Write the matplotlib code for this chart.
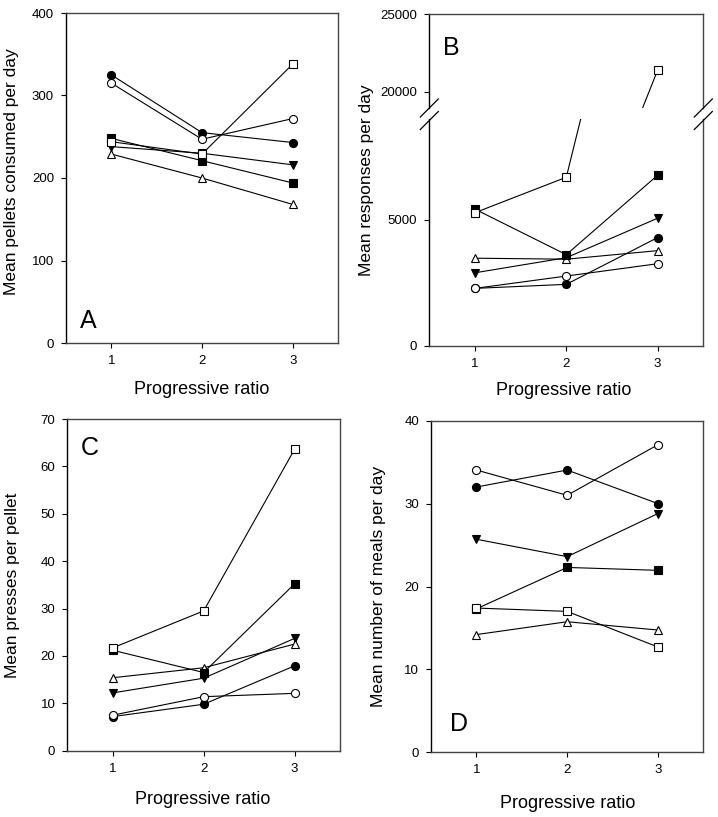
import matplotlib.pyplot as plt

plt.rcParams["font.family"] = ["Liberation Sans", "DejaVu Sans"]

# progressive ratio steps
ratios = [1, 2, 3]

# A: pellets consumed per day
a_filled_circle = [325, 255, 243]
a_open_circle = [315, 247, 272]
a_filled_tri = [238, 230, 216]
a_open_tri = [229, 200, 168]
a_filled_square = [248, 221, 194]
a_open_square = [244, 229, 338]

# B: responses per day (broken axis)
b_filled_circle = [2280, 2440, 4300]
b_open_circle = [2280, 2770, 3260]
b_filled_tri = [2900, 3500, 5070]
b_open_tri = [3480, 3440, 3780]
b_filled_square = [5430, 3620, 6780]
b_open_square = [5290, 6700, 21400]

# C: presses per pellet
c_filled_circle = [7.2, 9.8, 17.9]
c_open_circle = [7.5, 11.4, 12.1]
c_filled_tri = [12.2, 15.3, 23.7]
c_open_tri = [15.4, 17.5, 22.5]
c_filled_square = [21.2, 16.5, 35.2]
c_open_square = [21.7, 29.5, 63.6]

# D: meals per day
d_filled_circle = [32.0, 34.05, 30.0]
d_open_circle = [34.05, 31.0, 37.1]
d_filled_tri = [25.7, 23.6, 28.8]
d_open_tri = [14.2, 15.75, 14.75]
d_filled_square = [17.3, 22.3, 21.95]
d_open_square = [17.4, 17.0, 12.7]

W, H = 718, 817
fig = plt.figure(figsize=(W / 100, H / 100), dpi=100)


def px_axes(left, top, right, bottom):
    return fig.add_axes([left / W, 1 - bottom / H, (right - left) / W, (bottom - top) / H])


def style(ax, ticks, xticks=True):
    ax.set_xlim(0.5, 3.5)
    ax.set_yticks(ticks)
    ax.set_yticklabels([str(t) for t in ticks])
    if xticks:
        ax.set_xticks(ratios)
    else:
        ax.set_xticks([])
    ax.tick_params(direction="out", length=3.6, width=0.8, labelsize=9.5, pad=5)
    for s in ax.spines.values():
        s.set_color("#444444")
        s.set_linewidth(1.0)
    ax.spines["left"].set_color("black")


def draw(ax, series):
    # filled before open so open markers sit on top
    for vals, marker, face in series:
        ax.plot(ratios, vals, color="black", linewidth=0.8, marker=marker,
                markersize=5.8, markerfacecolor=face, markeredgecolor="black",
                markeredgewidth=0.8)


def series(fc, oc, ft, ot, fs, os_):
    return [
        (fc, "o", "black"),
        (oc, "o", "white"),
        (ft, "v", "black"),
        (ot, "^", "white"),
        (fs, "s", "black"),
        (os_, "s", "white"),
    ]


# panel A
ax_a = px_axes(66, 13, 338, 343)
draw(ax_a, series(a_filled_circle, a_open_circle, a_filled_tri, a_open_tri,
                  a_filled_square, a_open_square))
ax_a.set_ylim(0, 400)
style(ax_a, [0, 100, 200, 300, 400])

# panel B, split in two parts
ax_b_top = px_axes(429.3, 14, 703.3, 107.6)
ax_b_low = px_axes(429.3, 119.4, 703.3, 345.7)
b_series = series(b_filled_circle, b_open_circle, b_filled_tri, b_open_tri,
                  b_filled_square, b_open_square)
draw(ax_b_top, b_series)
draw(ax_b_low, b_series)
ax_b_top.set_ylim(19000, 25000)
ax_b_low.set_ylim(0, 9000)
style(ax_b_top, [20000, 25000], xticks=False)
style(ax_b_low, [0, 5000])
ax_b_top.spines["bottom"].set_visible(False)
ax_b_low.spines["top"].set_visible(False)

# break marks
for cx in (429.3, 703.3):
    for cy in (108, 120.5):
        fig.add_artist(plt.Line2D([(cx - 9) / W, (cx + 9) / W],
                                  [1 - (cy + 9) / H, 1 - (cy - 9) / H],
                                  color="black", linewidth=0.9))

# panel C
ax_c = px_axes(67.3, 419, 340, 750.7)
draw(ax_c, series(c_filled_circle, c_open_circle, c_filled_tri, c_open_tri,
                  c_filled_square, c_open_square))
ax_c.set_ylim(0, 70)
style(ax_c, [0, 10, 20, 30, 40, 50, 60, 70])

# panel D
ax_d = px_axes(431, 420.7, 703.3, 752.3)
draw(ax_d, series(d_filled_circle, d_open_circle, d_filled_tri, d_open_tri,
                  d_filled_square, d_open_square))
ax_d.set_ylim(0, 40)
style(ax_d, [0, 10, 20, 30, 40])

# axis labels
for x, y in [(202, 389), (564, 391), (203, 800), (568, 804)]:
    fig.text(x / W, 1 - y / H, "Progressive ratio", fontsize=13,
             ha="center", va="center")

ylabels = [
    (12, 172, "Mean pellets consumed per day"),
    (366, 180, "Mean responses per day"),
    (13, 585, "Mean presses per pellet"),
    (378, 586, "Mean number of meals per day"),
]
for x, y, txt in ylabels:
    fig.text(x / W, 1 - y / H, txt, fontsize=12.5, rotation=90,
             ha="center", va="center")

# panel letters
for x, y, letter in [(80, 328, "A"), (443, 55, "B"), (81, 455, "C"), (450, 731, "D")]:
    fig.text(x / W, 1 - y / H, letter, fontsize=18, ha="left", va="baseline")

fig.savefig("out.png", dpi=100)
